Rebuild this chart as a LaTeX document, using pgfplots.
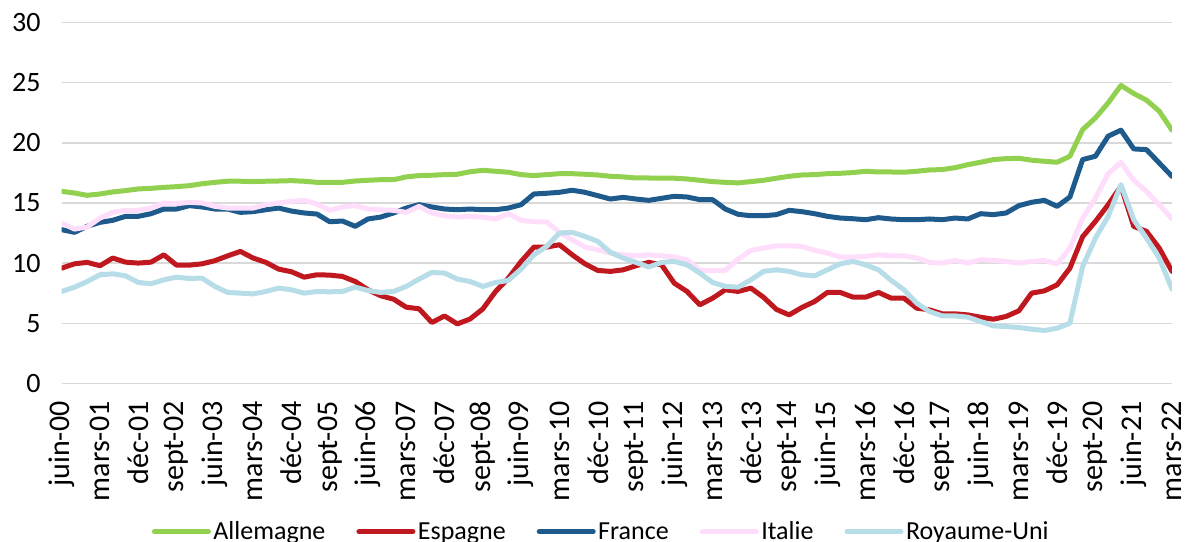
\documentclass[border=0pt]{standalone}
\usepackage{fontspec}
\setmainfont{Carlito}
\usepackage{pgfplots}
\usepackage{pgfplotstable}
\pgfplotsset{compat=1.18}
\definecolor{cAll}{HTML}{92D050}
\definecolor{cEsp}{HTML}{C0181F}
\definecolor{cFra}{HTML}{1F5A8C}
\definecolor{cIta}{HTML}{FFDEFC}
\definecolor{cRuk}{HTML}{B7DDE8}
\definecolor{gridc}{HTML}{D9D9D9}
\pgfplotstableread{
i all esp fra ita ruk
0 15.97 9.58 12.78 13.33 7.64
1 15.83 9.94 12.56 12.83 8.00
2 15.64 10.06 13.06 13.00 8.47
3 15.75 9.78 13.39 13.75 9.03
4 15.92 10.42 13.56 14.22 9.11
5 16.03 10.08 13.89 14.39 8.94
6 16.17 10.00 13.89 14.39 8.39
7 16.22 10.08 14.11 14.58 8.28
8 16.30 10.69 14.50 15.00 8.61
9 16.36 9.83 14.50 14.94 8.83
10 16.44 9.83 14.78 15.06 8.72
11 16.60 9.94 14.67 15.00 8.75
12 16.72 10.20 14.50 14.72 8.06
13 16.81 10.60 14.50 14.58 7.56
14 16.81 10.97 14.22 14.58 7.50
15 16.78 10.42 14.28 14.58 7.44
16 16.81 10.06 14.44 14.86 7.64
17 16.83 9.50 14.58 15.00 7.92
18 16.86 9.28 14.33 15.14 7.78
19 16.81 8.83 14.17 15.22 7.50
20 16.72 9.03 14.08 14.92 7.64
21 16.72 9.00 13.44 14.39 7.61
22 16.72 8.89 13.50 14.67 7.64
23 16.83 8.47 13.06 14.78 8.00
24 16.89 7.78 13.67 14.50 7.72
25 16.94 7.28 13.83 14.44 7.56
26 16.94 7.00 14.17 14.39 7.64
27 17.17 6.33 14.58 14.22 8.06
28 17.28 6.20 14.86 14.72 8.67
29 17.31 5.06 14.67 14.17 9.22
30 17.36 5.60 14.50 13.94 9.17
31 17.39 4.94 14.44 13.83 8.67
32 17.60 5.35 14.50 13.89 8.47
33 17.72 6.19 14.44 13.83 8.06
34 17.64 7.64 14.44 13.67 8.39
35 17.56 8.75 14.58 14.11 8.56
36 17.36 10.14 14.86 13.56 9.50
37 17.28 11.33 15.75 13.44 10.69
38 17.36 11.33 15.81 13.44 11.39
39 17.44 11.53 15.89 12.56 12.50
40 17.44 10.69 16.06 11.94 12.56
41 17.39 9.94 15.89 11.33 12.22
42 17.33 9.39 15.61 11.11 11.81
43 17.22 9.31 15.33 10.83 10.89
44 17.17 9.44 15.47 10.69 10.42
45 17.08 9.78 15.33 10.61 10.06
46 17.08 10.06 15.22 10.69 9.67
47 17.06 9.86 15.39 10.61 10.06
48 17.06 8.33 15.56 10.50 10.14
49 17.00 7.64 15.50 10.28 9.86
50 16.89 6.53 15.28 9.39 9.17
51 16.78 7.08 15.28 9.39 8.39
52 16.72 7.78 14.50 9.39 8.06
53 16.67 7.64 14.06 10.33 8.00
54 16.78 7.92 13.94 11.06 8.61
55 16.89 7.15 13.94 11.25 9.31
56 17.06 6.15 14.03 11.44 9.44
57 17.22 5.69 14.39 11.44 9.31
58 17.33 6.31 14.28 11.39 9.03
59 17.36 6.81 14.11 11.06 8.94
60 17.44 7.56 13.89 10.83 9.44
61 17.47 7.56 13.75 10.50 9.94
62 17.53 7.17 13.69 10.50 10.14
63 17.64 7.17 13.61 10.56 9.86
64 17.58 7.56 13.78 10.69 9.44
65 17.58 7.08 13.67 10.61 8.56
66 17.56 7.08 13.61 10.61 7.78
67 17.64 6.25 13.61 10.42 6.67
68 17.75 6.11 13.67 10.06 5.97
69 17.78 5.78 13.61 10.00 5.61
70 17.94 5.78 13.75 10.22 5.61
71 18.19 5.69 13.67 10.00 5.50
72 18.39 5.50 14.11 10.28 5.14
73 18.61 5.33 14.03 10.22 4.78
74 18.69 5.56 14.17 10.14 4.72
75 18.72 6.03 14.78 10.00 4.64
76 18.56 7.50 15.06 10.14 4.50
77 18.47 7.69 15.22 10.22 4.39
78 18.39 8.19 14.72 9.94 4.58
79 18.89 9.58 15.50 11.25 5.00
80 21.11 12.20 18.61 13.75 9.72
81 22.08 13.47 18.89 15.42 12.08
82 23.33 14.86 20.56 17.44 13.89
83 24.78 16.40 21.06 18.39 16.53
84 24.11 13.06 19.50 16.89 13.61
85 23.56 12.64 19.44 15.97 12.08
86 22.64 11.25 18.33 14.86 10.42
87 21.06 9.31 17.22 13.67 7.83
}\data
\begin{document}
\begin{tikzpicture}
\useasboundingbox (0,0) rectangle (1191bp,542bp);
\begin{axis}[
  at={(61.7bp,158.7bp)}, anchor=south west,
  scale only axis, width=1110.3bp, height=360.6bp,
  xmin=0, xmax=87, ymin=0, ymax=30,
  xtick={0,3,...,87},
  xticklabels={juin-00,mars-01,déc-01,sept-02,juin-03,mars-04,déc-04,sept-05,juin-06,mars-07,déc-07,sept-08,juin-09,mars-10,déc-10,sept-11,juin-12,mars-13,déc-13,sept-14,juin-15,mars-16,déc-16,sept-17,juin-18,mars-19,déc-19,sept-20,juin-21,mars-22},
  ytick={0,5,...,30},
  yticklabels={0,5,10,15,20,25,30},
  ymajorgrids,
  grid style={color=gridc, line width=1.3bp},
  axis line style={draw=none},
  major tick length=0pt,
  yticklabel style={font=\fontsize{28bp}{32bp}\selectfont, text=black, anchor=east, inner sep=0pt, xshift=-21bp},
  xticklabel style={font=\fontsize{30bp}{34bp}\selectfont, text=black, yshift=-18bp, rotate=90, anchor=east, inner sep=0pt},
  every axis plot/.append style={line width=5bp, line join=round, line cap=round, mark=none},
  legend columns=5,
  legend image code/.code={\draw[#1] (0bp,0bp) -- (54bp,0bp);},
  legend style={at={(0.0811,-0.4115)}, anchor=west, draw=none, fill=none,
    inner sep=0pt, font=\fontsize{26bp}{30bp}\selectfont,
    nodes={inner sep=0pt},
    /tikz/every odd column/.append style={column sep=2.5bp},
    /tikz/every even column/.append style={column sep=31bp}},
]
\addplot[color=cAll] table[x=i,y=all]{\data};
\addlegendentry{Allemagne}
\addplot[color=cEsp] table[x=i,y=esp]{\data};
\addlegendentry{Espagne}
\addplot[color=cFra] table[x=i,y=fra]{\data};
\addlegendentry{France}
\addplot[color=cIta] table[x=i,y=ita]{\data};
\addlegendentry{Italie}
\addplot[color=cRuk] table[x=i,y=ruk]{\data};
\addlegendentry{Royaume-Uni}
\end{axis}
\end{tikzpicture}
\end{document}
